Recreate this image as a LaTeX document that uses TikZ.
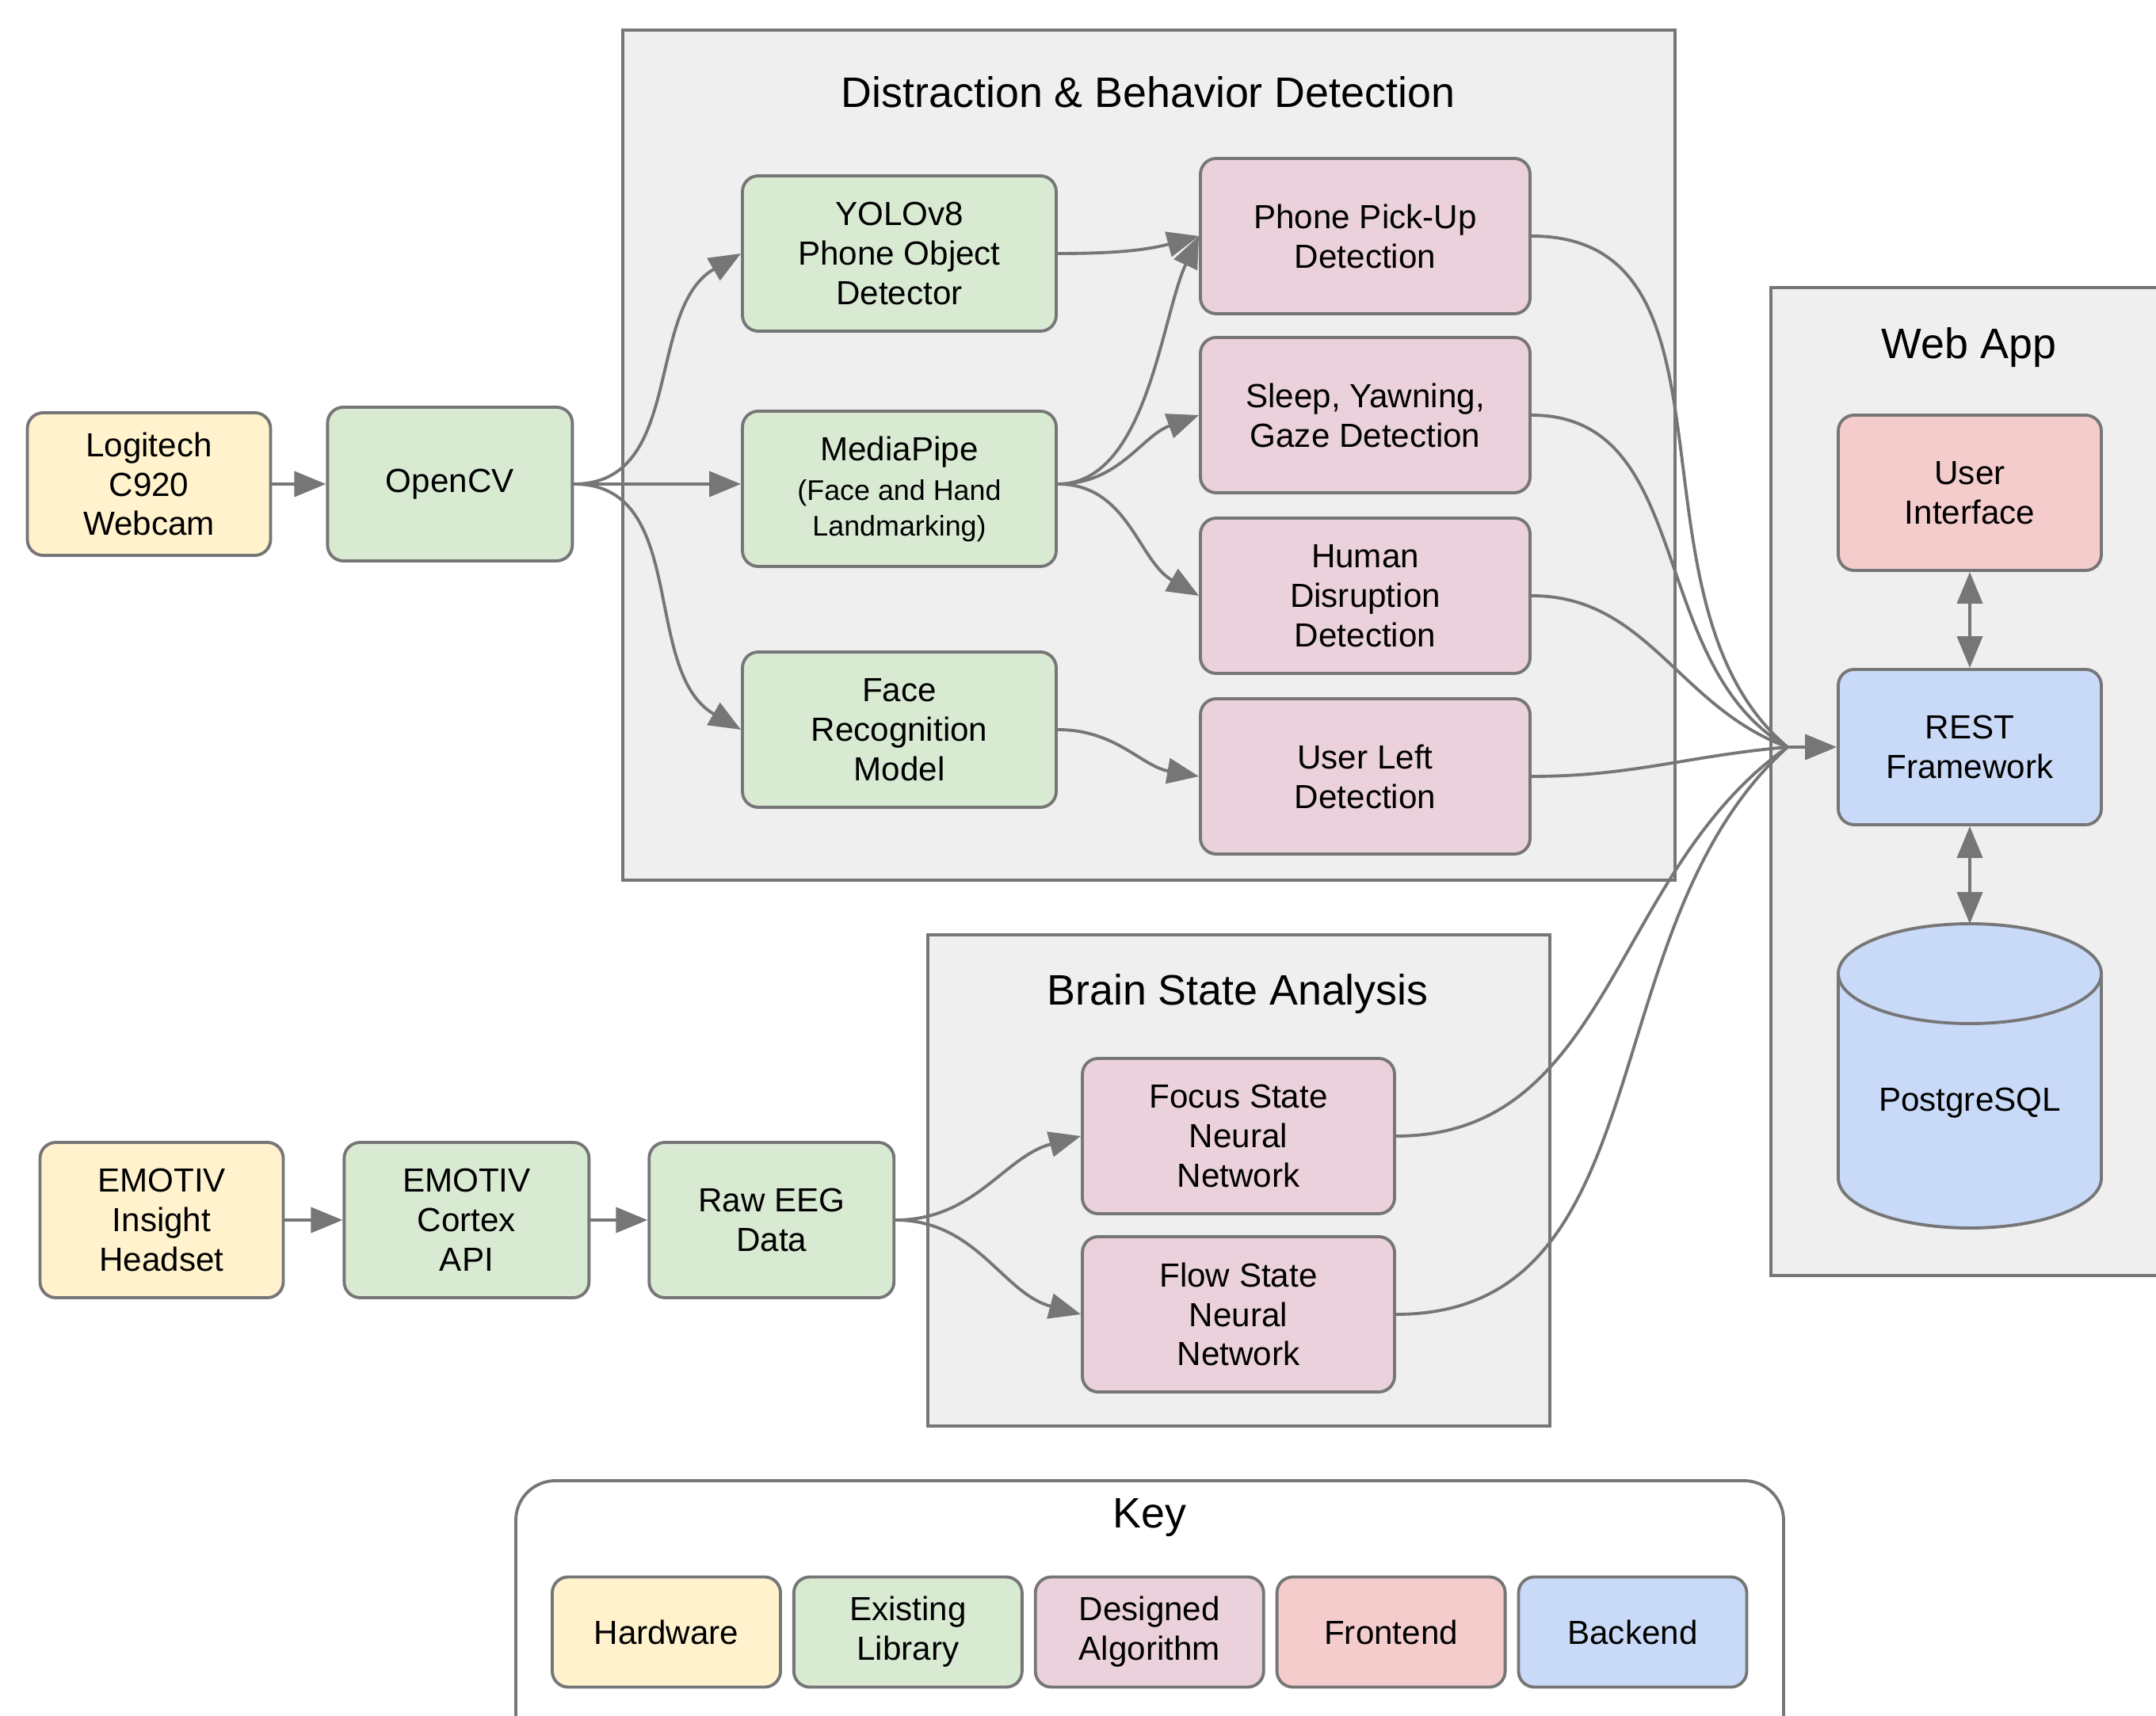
\documentclass[tikz,border=0pt]{standalone}
\usepackage{fontspec}
\setmainfont{Liberation Sans}
\usepackage{tikz}
\usetikzlibrary{arrows.meta,positioning,calc}
\definecolor{kYellow}{RGB}{255,242,204}
\definecolor{kGreen}{RGB}{217,234,211}
\definecolor{kPink}{RGB}{234,209,220}
\definecolor{kRed}{RGB}{244,204,204}
\definecolor{kBlue}{RGB}{201,218,248}
\definecolor{kGray}{RGB}{239,239,239}
\definecolor{kLine}{RGB}{118,118,118}
\newcommand{\notefont}{\fontsize{10.2}{12.8}\selectfont}

\begin{document}
\begin{tikzpicture}[
			>={Triangle[length=4mm,width=3.2mm]},
			box/.style={
				draw=kLine,
				line width=1.1pt,
				rounded corners=2mm,
				minimum height=1.96cm,
				align=center,
				font=\fontsize{12}{14.2}\selectfont
			},
			hw/.style={box,fill=kYellow},
			lib/.style={box,fill=kGreen},
			alg/.style={box,fill=kPink},
			fe/.style={box,fill=kRed},
			be/.style={box,fill=kBlue},
			grp/.style={draw=kLine,line width=1.1pt,fill=kGray},
			ttl/.style={font=\fontsize{15.3}{18}\selectfont},
			wire/.style={draw=kLine,line width=1.1pt},
			link/.style={wire,->}
			]
			\path[use as bounding box,clip](0,0) rectangle (27.21,-21.66);
			% groups
			\path[grp](7.86,-0.38) rectangle (21.14,-11.11);
			\path[grp](11.71,-11.80) rectangle (19.56,-18.00);
			\path[grp](22.35,-3.63) rectangle (27.80,-16.10);
			\path[draw=kLine,line width=1.1pt,fill=white,rounded corners=5mm](6.51,-18.69) rectangle (22.51,-22.40);
			\node[ttl](tdist) at (14.49,-1.16){Distraction \& Behavior Detection};
			\node[ttl](tbrain) at (15.62,-12.55){Brain State Analysis};
			\node[ttl](tweb) at (24.85,-4.39){Web App};
			\node[ttl](tkey) at (14.51,-19.16){Key};
			% camera path
			\node[hw,minimum width=3.07cm,minimum height=1.80cm](logi) at (1.88,-6.11){Logitech\\C920\\Webcam};
			\node[lib,minimum width=3.09cm,minimum height=1.94cm,right=0.68cm of logi](ocv){OpenCV};
			\node[lib,minimum width=3.96cm](yolo) at (11.35,-3.20){YOLOv8\\Phone Object\\Detector};
			\node[lib,minimum width=3.96cm](mpipe) at (11.35,-6.17){MediaPipe\\{\notefont (Face and Hand}\\[-1.4pt]{\notefont Landmarking)}};
			\node[lib,minimum width=3.96cm](frec) at (11.35,-9.21){Face\\Recognition\\Model};
			\node[alg,minimum width=4.16cm](phone) at (17.23,-2.98){Phone Pick-Up\\Detection};
			\node[alg,minimum width=4.16cm](sleep) at (17.23,-5.24){Sleep, Yawning,\\Gaze Detection};
			\node[alg,minimum width=4.16cm](human) at (17.23,-7.52){Human\\Disruption\\Detection};
			\node[alg,minimum width=4.16cm](uleft) at (17.23,-9.80){User Left\\Detection};
			% web app
			\node[fe,minimum width=3.32cm](ui) at (24.86,-6.22){User\\Interface};
			\node[be,minimum width=3.32cm](rest) at (24.86,-9.43){REST\\Framework};
			\node[minimum width=3.32cm,minimum height=3.84cm,outer sep=0pt](db) at (24.86,-13.58){};
			\path[wire,fill=kBlue]($(db.north west)+(0,-0.63)$) -- ($(db.south west)+(0,0.63)$)
				arc[start angle=180,end angle=360,x radius=1.66,y radius=0.63]
				-- ($(db.north east)+(0,-0.63)$)
				arc[start angle=0,end angle=180,x radius=1.66,y radius=0.63] -- cycle;
			\path[wire]($(db.north west)+(0,-0.63)$) arc[start angle=180,end angle=360,x radius=1.66,y radius=0.63];
			\node[font=\fontsize{12}{14.2}\selectfont](dbl) at ($(db.center)+(0,-0.34)$){PostgreSQL};
			% eeg path
			\node[hw,minimum width=3.07cm](emo) at (2.04,-15.40){EMOTIV\\Insight\\Headset};
			\node[lib,minimum width=3.09cm,right=0.73cm of emo](cortex){EMOTIV\\Cortex\\API};
			\node[lib,minimum width=3.09cm,right=0.72cm of cortex](raw){Raw EEG\\Data};
			\node[alg,minimum width=3.94cm](focus) at (15.63,-14.34){Focus State\\Neural\\Network};
			\node[alg,minimum width=3.94cm](flow) at (15.63,-16.59){Flow State\\Neural\\Network};
			% key
			\node[hw,minimum width=2.88cm,minimum height=1.39cm](khw) at (8.41,-20.60){Hardware};
			\node[lib,minimum width=2.88cm,minimum height=1.39cm,right=0.13cm of khw](klib){Existing\\Library};
			\node[alg,minimum width=2.88cm,minimum height=1.39cm,right=0.13cm of klib](kalg){Designed\\Algorithm};
			\node[fe,minimum width=2.88cm,minimum height=1.39cm,right=0.13cm of kalg](kfe){Frontend};
			\node[be,minimum width=2.88cm,minimum height=1.39cm,right=0.13cm of kfe](kbe){Backend};
			% connectors
			\draw[link](logi)--(ocv);
			\draw[link](ocv.east) to[out=0,in=210] (yolo.west);
			\draw[link](ocv.east)--(ocv.east-|mpipe.west);
			\draw[link](ocv.east) to[out=0,in=150] (frec.west);
			\draw[link](yolo.east) to[out=0,in=195] (phone.west);
			\draw[link](mpipe.east|-ocv.east) to[out=0,in=245,looseness=0.8] (phone.west);
			\draw[link](mpipe.east|-ocv.east) to[out=0,in=200] (sleep.west);
			\draw[link](mpipe.east|-ocv.east) to[out=0,in=150] (human.west);
			\draw[link](frec.east) to[out=0,in=170] (uleft.west);
			\draw[link](emo)--(cortex);
			\draw[link](cortex)--(raw);
			\draw[link](raw.east) to[out=0,in=195] (focus.west);
			\draw[link](raw.east) to[out=0,in=165] (flow.west);
			\coordinate(rin) at ($(rest.west)+(-0.62,0)$);
			\draw[wire](phone.east) to[out=0,in=140] (rin);
			\draw[wire](sleep.east) to[out=0,in=150] (rin);
			\draw[wire](human.east) to[out=0,in=160] (rin);
			\draw[wire](uleft.east) to[out=0,in=185] (rin);
			\draw[wire](focus.east) to[out=0,in=215] (rin);
			\draw[wire](flow.east) to[out=0,in=222] (rin);
			\draw[link](rin)--(rest.west);
			\draw[link,<->](ui)--(rest);
			\draw[link,<->](rest.south)--(db.north);
		\end{tikzpicture}
\end{document}
